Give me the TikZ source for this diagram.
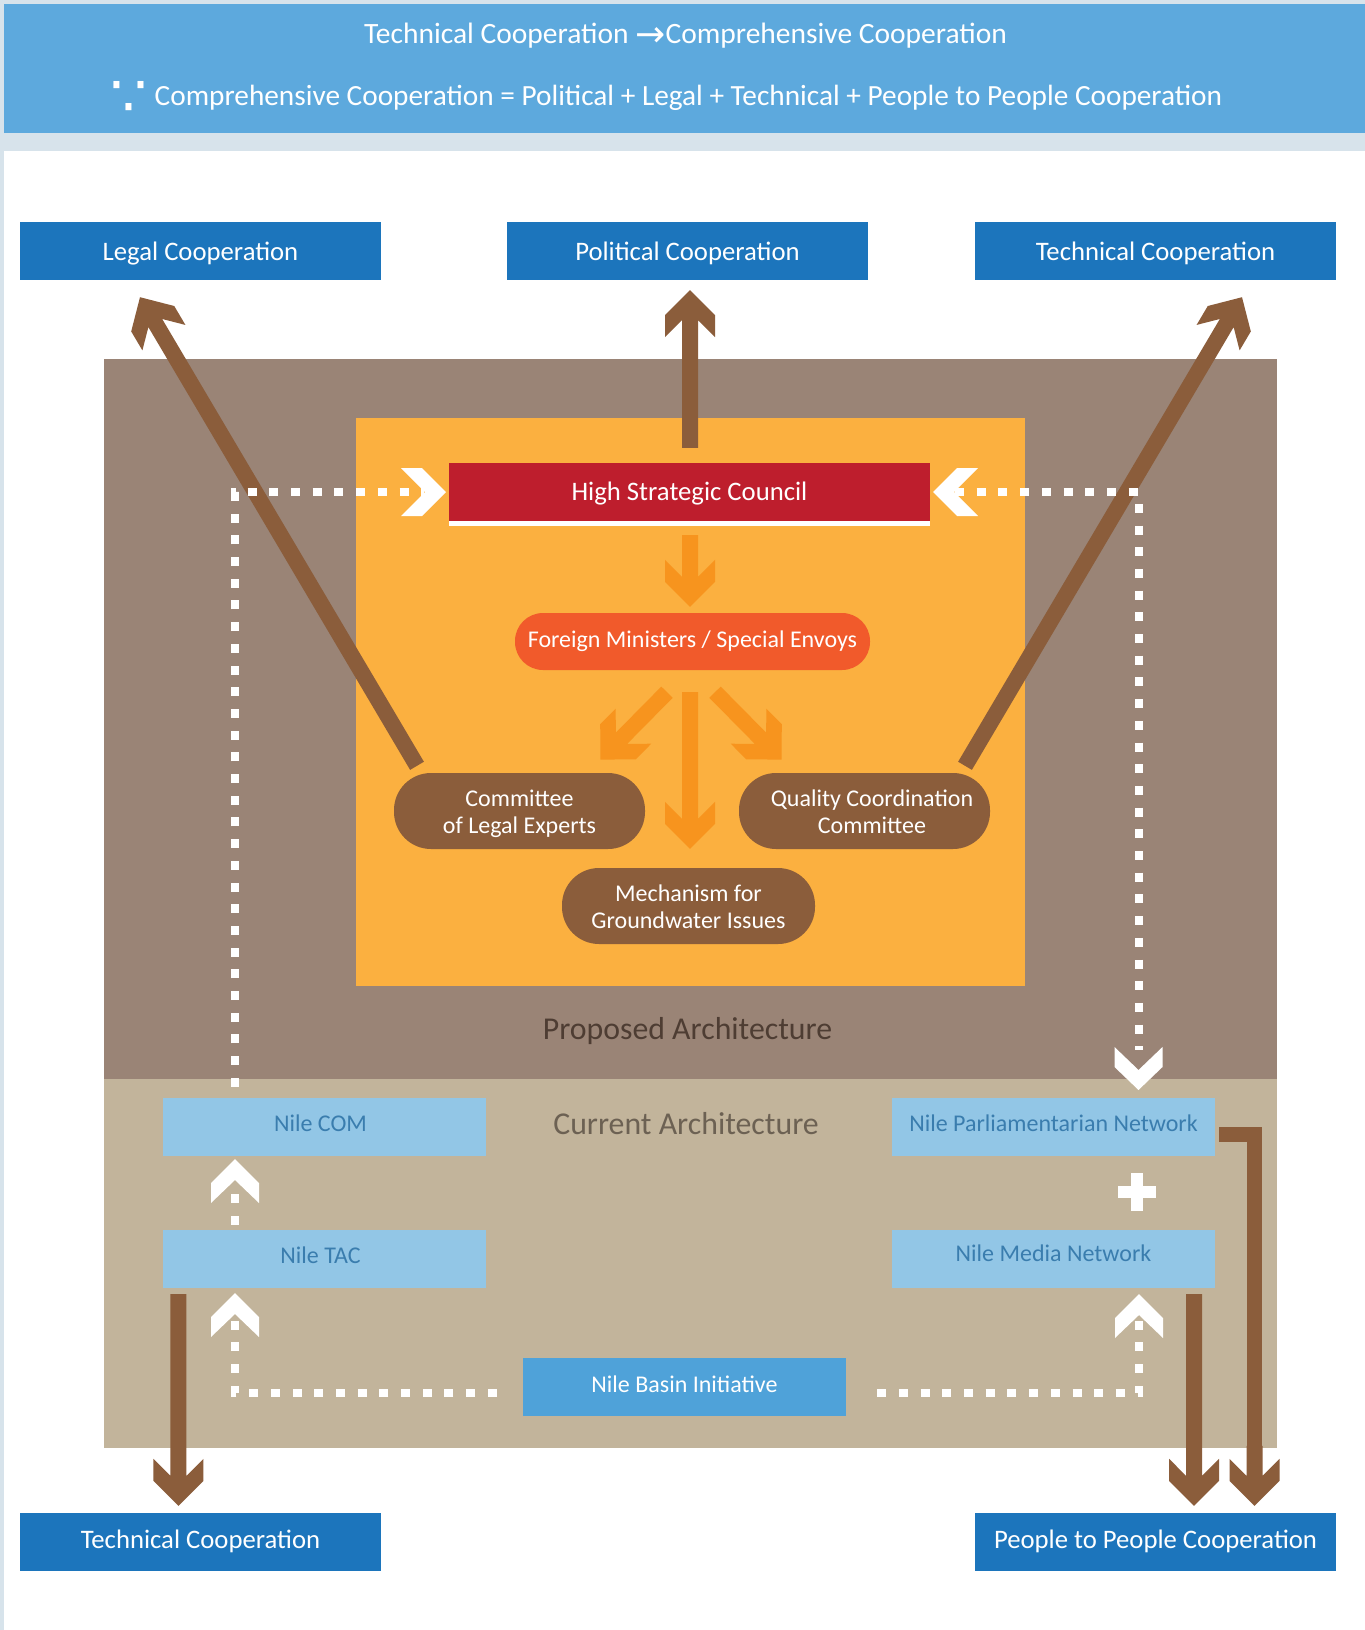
\documentclass[tikz,border=0pt]{standalone}
\usepackage{fontspec}
\setmainfont{Carlito}
\newfontfamily\dejavu{DejaVu Sans}
\usetikzlibrary{calc}
\definecolor{bgGrey}{HTML}{D7E3EB}
\definecolor{topBlue}{HTML}{5DA9DD}
\definecolor{darkBlue}{HTML}{1C75BC}
\definecolor{propBrown}{HTML}{9A8476}
\definecolor{curTan}{HTML}{C2B49B}
\definecolor{orangeBox}{HTML}{FBB040}
\definecolor{hscRed}{HTML}{BE1E2D}
\definecolor{fmRed}{HTML}{F15A2B}
\definecolor{nodeBrown}{HTML}{8B5D3B}
\definecolor{orangeArrow}{HTML}{F7941E}
\definecolor{lightBlue}{HTML}{92C6E6}
\definecolor{lightText}{HTML}{3A7DAE}
\definecolor{nbiBlue}{HTML}{4FA2D9}
\definecolor{propText}{HTML}{4E3D33}
\definecolor{curText}{HTML}{6C6153}

\newcommand\fatarrow[3]{%
  \path let \p1=(#2), \p2=(#3) in \pgfextra{%
    \pgfmathsetmacro\faA{atan2(\y2-\y1,\x2-\x1)}%
    \pgfmathsetmacro\faL{veclen(\x2-\x1,\y2-\y1)}%
    \global\let\faA\faA \global\let\faL\faL
    \xdef\faX{\x1}\xdef\faY{\y1}};
  \fill[#1, shift={(\faX,\faY)}, rotate=\faA]
    (0pt,8pt) -- ({\faL*1pt-30pt},8pt) -- ({\faL*1pt-47pt},25pt) -- ({\faL*1pt-25pt},25pt)
    -- ({\faL*1pt},0pt) -- ({\faL*1pt-25pt},-25pt) -- ({\faL*1pt-47pt},-25pt)
    -- ({\faL*1pt-30pt},-8pt) -- (0pt,-8pt) -- cycle;
}
\newcommand\upchev[2]{\fill[white] (#1,#2) -- ++(24,24) -- ++(0,20) -- ++(-24,-23) -- ++(-24,23) -- ++(0,-20) -- cycle;}
\newcommand\twolines[2]{\rule{0pt}{17pt}#1\\\smash{#2}}

\begin{document}
\begin{tikzpicture}[x=1pt,y=-1pt,
  coopbox/.style={fill=darkBlue, text=white, minimum width=361pt, minimum height=58pt, inner sep=0pt, text height=19.5pt, text depth=0pt, font=\fontsize{26.7}{30}\selectfont},
  curbox/.style={fill=lightBlue, text=lightText, minimum width=323pt, minimum height=58pt, inner sep=0pt, text height=15.5pt, text depth=7pt, font=\fontsize{24}{28}\selectfont},
  pill/.style={fill=nodeBrown, text=white, minimum width=251pt, minimum height=76pt, rounded corners=37pt, inner sep=0pt, align=center, font=\fontsize{24}{27}\selectfont},
  dotline/.style={white, line width=8pt, dash pattern=on 9pt off 12.7pt},
  hdr/.style={text=white, inner sep=0pt, text height=19pt, text depth=0pt, font=\fontsize{29.5}{34}\selectfont},
  archtxt/.style={inner sep=0pt, text height=20.5pt, text depth=0pt, font=\fontsize{31.8}{36}\selectfont}
]
\useasboundingbox (0,0) rectangle (1365,1630);
\fill[bgGrey] (0,0) rectangle (1365,1630);
\fill[white] (4,151) rectangle (1365,1630);
\fill[topBlue] (4,4) rectangle (1365,133);

\node[hdr, anchor=west] (h1) at (364,34) {Technical Cooperation {\dejavu\fontsize{36}{36}\selectfont\raisebox{-3pt}{→}}Comprehensive Cooperation};
\node[hdr, anchor=west, font=\fontsize{29.3}{34}\selectfont] (h2) at (110,96) {{\dejavu\fontsize{58}{58}\selectfont\raisebox{-11pt}{∵}}\hspace{1pt} Comprehensive Cooperation = Political + Legal + Technical + People to People Cooperation};

% architecture areas
\fill[propBrown] (104,359) rectangle (1277,1079);
\fill[curTan] (104,1079) rectangle (1277,1448);
\fill[orangeBox] (356,418) rectangle (1025,986);

% cooperation boxes
\node[coopbox] (legal) at (200.5,251) {Legal Cooperation};
\node[coopbox] (pol) at (687.5,251) {Political Cooperation};
\node[coopbox] (techtop) at (1155.5,251) {Technical Cooperation};
\node[coopbox, text height=17.2pt, text depth=5pt] (techbot) at (200.5,1542) {Technical Cooperation};
\node[coopbox, text height=17.2pt, text depth=4pt] (people) at (1155.5,1542) {People to People Cooperation};

% proposed architecture nodes
\node[fill=hscRed, text=white, minimum width=481pt, minimum height=58pt, inner sep=0pt, text height=17.2pt, text depth=0pt, font=\fontsize{26.7}{30}\selectfont] (hsc) at (689.5,492) {High Strategic Council};
\fill[white] (hsc.south west) rectangle ($(hsc.south east)+(0,5)$);
\node[fill=fmRed, text=white, minimum width=355pt, minimum height=57pt, rounded corners=28pt, inner sep=0pt, text height=15.5pt, text depth=3pt, font=\fontsize{24}{28}\selectfont] (fm) at (692.5,641.5) {Foreign Ministers / Special Envoys};
\node[pill] (cle) at (519.5,811) {\twolines{Committee}{of Legal Experts}};
\node[pill] (qcc) at (864.5,811) {\twolines{\hspace*{15pt}Quality Coordination}{\hspace*{15pt}Committee}};
\node[pill, minimum width=253pt] (mgi) at (688.5,906) {\twolines{Mechanism for}{Groundwater Issues}};

\node[archtxt, text=propText] (proptxt) at (687.5,1029) {Proposed Architecture};
\node[archtxt, text=curText] (curtxt) at (686,1124) {Current Architecture};

% current architecture nodes
\node[curbox] (com) at (324.5,1127) {\hspace*{-8pt}Nile COM};
\node[curbox] (tac) at (324.5,1259) {\hspace*{-8pt}Nile TAC};
\node[curbox] (npn) at (1053.5,1127) {Nile Parliamentarian Network};
\node[curbox, text depth=10pt] (nmn) at (1053.5,1259) {Nile Media Network};
\node[curbox, fill=nbiBlue, text=white, text depth=4pt] (nbi) at (684.5,1387) {Nile Basin Initiative};

% orange arrows
\fatarrow{orangeArrow}{$(hsc.south)+(0.5,14)$}{$(fm.north)+(-2.5,-6)$}
\fatarrow{orangeArrow}{$(fm.south)+(-2.5,22)$}{$(mgi.north)+(1.5,-19)$}
\fatarrow{orangeArrow}{$(fm.south)+(-25.5,22)$}{$(cle.north east)+(-45,-13)$}
\fatarrow{orangeArrow}{$(fm.south)+(22.5,22)$}{$(qcc.north west)+(43,-13)$}

% brown arrows to cooperation boxes
\fatarrow{nodeBrown}{$(hsc.north)+(0.5,-15)$}{$(pol.south)+(2.5,10)$}
\fatarrow{nodeBrown}{$(cle.north)+(-102.5,-7)$}{$(legal.south)+(-60.5,17)$}
\fatarrow{nodeBrown}{$(qcc.north)+(100.5,-7)$}{$(techtop.south)+(86.5,17)$}
\fatarrow{nodeBrown}{$(tac.south west)+(15.5,6)$}{$(techbot.north)+(-22,-7)$}
\fatarrow{nodeBrown}{$(nmn.south east)+(-21,6)$}{$(people.north)+(38.5,-7)$}
\coordinate (npnout) at ($(npn.east)+(4,7.5)$);
\coordinate (ppl2) at ($(people.north)+(99,-7)$);
\draw[nodeBrown, line width=15pt, line join=miter] (npnout) -| ($(ppl2)+(0,-40)$);
\fatarrow{nodeBrown}{$(ppl2)+(0,-60)$}{ppl2}

% dotted connectors with chevrons
\coordinate (lchev) at (424,492);
\coordinate (rchev) at (955,492);
\draw[dotline] ($(com.north west)+(72,-11)$) |- (lchev);
\draw[dotline] (rchev) -| (1138.5,1050);
\fill[white] (401,468) -- (422,468) -- (446,492) -- (422,516) -- (401,516) -- (425,492) -- cycle;
\fill[white] (978,468) -- (957,468) -- (933,492) -- (957,516) -- (978,516) -- (954,492) -- cycle;
\fill[white] (1114.5,1047) -- (1138.5,1070) -- (1162.5,1047) -- (1162.5,1067) -- (1138.5,1090) -- (1114.5,1067) -- cycle;

\draw[dotline] ($(tac.north west)+(72,-5)$) -- ($(com.south west)+(72,26)$);
\upchev{235}{1159}
\draw[dotline] ($(nbi.west)+(-26,6)$) -| ($(tac.south west)+(72,28)$);
\upchev{235}{1293}
\draw[dotline] ($(nbi.east)+(31,6)$) -| ($(nmn.south east)+(-76,28)$);
\upchev{1139}{1294}

% plus sign
\fill[white] (1131,1173) rectangle (1143,1211);
\fill[white] (1118,1186) rectangle (1156,1198);
\end{tikzpicture}
\end{document}
